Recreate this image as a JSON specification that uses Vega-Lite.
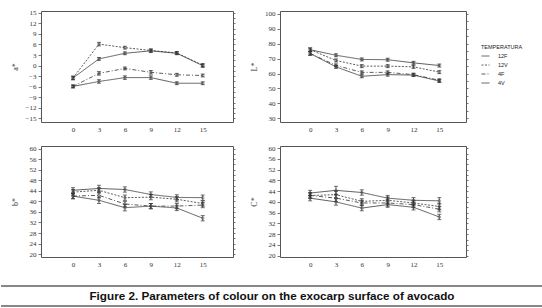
{
  "$schema": "https://vega.github.io/schema/vega-lite/v6.json",
  "background": "white",
  "padding": {"left": 0, "top": 8, "right": 0, "bottom": 0},
  "config": {
    "view": {"stroke": "#555", "strokeWidth": 1},
    "axis": {"grid": false, "domain": false, "labelFont": "Liberation Serif", "labelFontSize": 7, "labelColor": "#333", "titleFont": "Liberation Serif", "titleFontSize": 8, "titleFontWeight": "normal", "titleColor": "#333", "tickColor": "#555", "tickWidth": 0.8}
  },
  "datasets": {
    "colour": [
      {"p": "a", "day": 0, "s": "12F", "v": -3.5, "e": 0.5},
      {"p": "a", "day": 3, "s": "12F", "v": 1.9, "e": 0.4},
      {"p": "a", "day": 6, "s": "12F", "v": 3.5, "e": 0.4},
      {"p": "a", "day": 9, "s": "12F", "v": 4.2, "e": 0.5},
      {"p": "a", "day": 12, "s": "12F", "v": 3.5, "e": 0.4},
      {"p": "a", "day": 15, "s": "12F", "v": 0.0, "e": 0.5},
      {"p": "a", "day": 0, "s": "12V", "v": -3.5, "e": 0.5},
      {"p": "a", "day": 3, "s": "12V", "v": 6.1, "e": 0.5},
      {"p": "a", "day": 6, "s": "12V", "v": 5.1, "e": 0.4},
      {"p": "a", "day": 9, "s": "12V", "v": 4.3, "e": 0.4},
      {"p": "a", "day": 12, "s": "12V", "v": 3.6, "e": 0.4},
      {"p": "a", "day": 15, "s": "12V", "v": 0.1, "e": 0.4},
      {"p": "a", "day": 0, "s": "4F", "v": -5.9, "e": 0.4},
      {"p": "a", "day": 3, "s": "4F", "v": -2.2, "e": 0.5},
      {"p": "a", "day": 6, "s": "4F", "v": -0.8, "e": 0.4},
      {"p": "a", "day": 9, "s": "4F", "v": -1.9, "e": 0.5},
      {"p": "a", "day": 12, "s": "4F", "v": -2.6, "e": 0.4},
      {"p": "a", "day": 15, "s": "4F", "v": -2.8, "e": 0.4},
      {"p": "a", "day": 0, "s": "4V", "v": -5.9, "e": 0.4},
      {"p": "a", "day": 3, "s": "4V", "v": -4.5, "e": 0.5},
      {"p": "a", "day": 6, "s": "4V", "v": -3.4, "e": 0.5},
      {"p": "a", "day": 9, "s": "4V", "v": -3.4, "e": 0.5},
      {"p": "a", "day": 12, "s": "4V", "v": -5.0, "e": 0.4},
      {"p": "a", "day": 15, "s": "4V", "v": -5.0, "e": 0.4},
      {"p": "L", "day": 0, "s": "12F", "v": 76.0, "e": 1.2},
      {"p": "L", "day": 3, "s": "12F", "v": 72.3, "e": 1.0},
      {"p": "L", "day": 6, "s": "12F", "v": 69.5, "e": 1.0},
      {"p": "L", "day": 9, "s": "12F", "v": 69.3, "e": 1.0},
      {"p": "L", "day": 12, "s": "12F", "v": 67.2, "e": 1.0},
      {"p": "L", "day": 15, "s": "12F", "v": 65.4, "e": 1.0},
      {"p": "L", "day": 0, "s": "12V", "v": 76.0, "e": 1.2},
      {"p": "L", "day": 3, "s": "12V", "v": 68.8, "e": 1.0},
      {"p": "L", "day": 6, "s": "12V", "v": 65.0, "e": 1.0},
      {"p": "L", "day": 9, "s": "12V", "v": 65.0, "e": 1.0},
      {"p": "L", "day": 12, "s": "12V", "v": 64.5, "e": 1.0},
      {"p": "L", "day": 15, "s": "12V", "v": 61.0, "e": 1.0},
      {"p": "L", "day": 0, "s": "4F", "v": 73.5, "e": 1.2},
      {"p": "L", "day": 3, "s": "4F", "v": 65.5, "e": 1.0},
      {"p": "L", "day": 6, "s": "4F", "v": 60.8, "e": 1.0},
      {"p": "L", "day": 9, "s": "4F", "v": 60.8, "e": 1.0},
      {"p": "L", "day": 12, "s": "4F", "v": 59.3, "e": 1.0},
      {"p": "L", "day": 15, "s": "4F", "v": 55.5, "e": 1.0},
      {"p": "L", "day": 0, "s": "4V", "v": 73.5, "e": 1.2},
      {"p": "L", "day": 3, "s": "4V", "v": 64.5, "e": 1.0},
      {"p": "L", "day": 6, "s": "4V", "v": 58.2, "e": 1.0},
      {"p": "L", "day": 9, "s": "4V", "v": 59.3, "e": 1.0},
      {"p": "L", "day": 12, "s": "4V", "v": 59.0, "e": 1.0},
      {"p": "L", "day": 15, "s": "4V", "v": 55.0, "e": 1.0},
      {"p": "b", "day": 0, "s": "12F", "v": 44.2, "e": 1.0},
      {"p": "b", "day": 3, "s": "12F", "v": 44.9, "e": 1.2},
      {"p": "b", "day": 6, "s": "12F", "v": 44.5, "e": 1.0},
      {"p": "b", "day": 9, "s": "12F", "v": 42.6, "e": 1.0},
      {"p": "b", "day": 12, "s": "12F", "v": 41.5, "e": 1.0},
      {"p": "b", "day": 15, "s": "12F", "v": 41.4, "e": 1.0},
      {"p": "b", "day": 0, "s": "12V", "v": 43.5, "e": 1.0},
      {"p": "b", "day": 3, "s": "12V", "v": 44.2, "e": 1.0},
      {"p": "b", "day": 6, "s": "12V", "v": 41.4, "e": 1.0},
      {"p": "b", "day": 9, "s": "12V", "v": 41.6, "e": 1.0},
      {"p": "b", "day": 12, "s": "12V", "v": 40.8, "e": 1.0},
      {"p": "b", "day": 15, "s": "12V", "v": 39.2, "e": 1.0},
      {"p": "b", "day": 0, "s": "4F", "v": 42.0, "e": 1.0},
      {"p": "b", "day": 3, "s": "4F", "v": 42.3, "e": 1.0},
      {"p": "b", "day": 6, "s": "4F", "v": 39.0, "e": 1.0},
      {"p": "b", "day": 9, "s": "4F", "v": 38.2, "e": 1.0},
      {"p": "b", "day": 12, "s": "4F", "v": 38.2, "e": 1.0},
      {"p": "b", "day": 15, "s": "4F", "v": 38.6, "e": 1.0},
      {"p": "b", "day": 0, "s": "4V", "v": 42.0, "e": 1.0},
      {"p": "b", "day": 3, "s": "4V", "v": 40.4, "e": 1.2},
      {"p": "b", "day": 6, "s": "4V", "v": 37.6, "e": 1.2},
      {"p": "b", "day": 9, "s": "4V", "v": 38.2, "e": 1.0},
      {"p": "b", "day": 12, "s": "4V", "v": 37.5, "e": 1.0},
      {"p": "b", "day": 15, "s": "4V", "v": 33.6, "e": 1.0},
      {"p": "C", "day": 0, "s": "12F", "v": 43.3, "e": 1.0},
      {"p": "C", "day": 3, "s": "12F", "v": 44.3, "e": 1.5},
      {"p": "C", "day": 6, "s": "12F", "v": 43.5, "e": 1.0},
      {"p": "C", "day": 9, "s": "12F", "v": 41.4, "e": 1.0},
      {"p": "C", "day": 12, "s": "12F", "v": 40.6, "e": 1.0},
      {"p": "C", "day": 15, "s": "12F", "v": 40.4, "e": 1.2},
      {"p": "C", "day": 0, "s": "12V", "v": 42.4, "e": 1.0},
      {"p": "C", "day": 3, "s": "12V", "v": 42.7, "e": 1.2},
      {"p": "C", "day": 6, "s": "12V", "v": 40.2, "e": 1.0},
      {"p": "C", "day": 9, "s": "12V", "v": 40.6, "e": 1.2},
      {"p": "C", "day": 12, "s": "12V", "v": 39.6, "e": 1.0},
      {"p": "C", "day": 15, "s": "12V", "v": 38.3, "e": 1.2},
      {"p": "C", "day": 0, "s": "4F", "v": 42.4, "e": 1.0},
      {"p": "C", "day": 3, "s": "4F", "v": 41.4, "e": 1.2},
      {"p": "C", "day": 6, "s": "4F", "v": 39.6, "e": 1.0},
      {"p": "C", "day": 9, "s": "4F", "v": 39.6, "e": 1.2},
      {"p": "C", "day": 12, "s": "4F", "v": 39.0, "e": 1.0},
      {"p": "C", "day": 15, "s": "4F", "v": 37.3, "e": 1.0},
      {"p": "C", "day": 0, "s": "4V", "v": 41.4, "e": 1.0},
      {"p": "C", "day": 3, "s": "4V", "v": 40.0, "e": 1.2},
      {"p": "C", "day": 6, "s": "4V", "v": 37.7, "e": 1.0},
      {"p": "C", "day": 9, "s": "4V", "v": 39.0, "e": 1.0},
      {"p": "C", "day": 12, "s": "4V", "v": 38.0, "e": 1.0},
      {"p": "C", "day": 15, "s": "4V", "v": 34.4, "e": 1.0}
    ],
    "rules": [{"pos": 0}, {"pos": 1}]
  },
  "columns": 1,
  "align": "none",
  "spacing": 17,
  "concat": [
    {
      "columns": 2,
      "spacing": {"row": 10, "column": 13},
      "resolve": {"scale": {"strokeDash": "shared"}, "legend": {"strokeDash": "shared"}},
      "concat": [
        {
          "width": 192, "height": 111,
          "data": {"name": "colour"},
          "transform": [{"filter": "datum.p === 'a'"}],
          "encoding": {
            "x": {"field": "day", "type": "quantitative", "scale": {"domain": [-3.7, 18.5], "nice": false, "zero": false}, "axis": {"values": [0, 3, 6, 9, 12, 15], "ticks": false, "labelPadding": 3, "title": null}},
            "y": {"field": "v", "type": "quantitative", "scale": {"domain": [-16, 15.5], "nice": false, "zero": false}, "axis": {"values": [-15, -12, -9, -6, -3, 0, 3, 6, 9, 12, 15], "tickSize": 3, "labelPadding": 2, "minExtent": 15, "maxExtent": 15, "titlePadding": 7, "title": ["", "a*"], "titleLineHeight": 10}}
          },
          "layer": [
            {"mark": {"type": "line", "color": "#333", "strokeWidth": 0.8}, "encoding": {"strokeDash": {"field": "s", "type": "nominal", "scale": {"domain": ["12F", "12V", "4F", "4V"], "range": [[1, 0], [2, 1.5], [4, 2, 1, 2], [1, 0]]}, "legend": {"orient": "none", "legendX": 440, "legendY": 34, "title": "TEMPERATURA", "titleFont": "Liberation Sans", "titleFontSize": 5.5, "titleFontWeight": "normal", "titleColor": "#222", "titlePadding": 1, "labelFont": "Liberation Sans", "labelFontSize": 5.5, "labelColor": "#222", "symbolType": "stroke", "symbolSize": 64, "symbolStrokeWidth": 0.8, "symbolStrokeColor": "#333", "labelOffset": 8, "rowPadding": 1}}}},
            {"mark": {"type": "errorbar", "ticks": {"size": 4}, "color": "#333", "rule": {"strokeWidth": 0.8}}, "encoding": {"y": {"field": "v", "type": "quantitative", "axis": null}, "yError": {"field": "e"}}},
            {"mark": {"type": "point", "filled": false, "size": 7, "color": "#333", "strokeWidth": 0.6}, "encoding": {"y": {"field": "v", "type": "quantitative", "axis": {"orient": "right", "labels": false, "title": null, "tickSize": 2, "values": [-15, -13.5, -12, -10.5, -9, -7.5, -6, -4.5, -3, -1.5, 0, 1.5, 3, 4.5, 6, 7.5, 9, 10.5, 12, 13.5, 15]}}}}
          ],
          "resolve": {"axis": {"y": "independent"}}
        },
        {
          "width": 186, "height": 111,
          "data": {"name": "colour"},
          "transform": [{"filter": "datum.p === 'L'"}],
          "encoding": {
            "x": {"field": "day", "type": "quantitative", "scale": {"domain": [-3.5, 18.1], "nice": false, "zero": false}, "axis": {"values": [0, 3, 6, 9, 12, 15], "ticks": false, "labelPadding": 3, "title": null}},
            "y": {"field": "v", "type": "quantitative", "scale": {"domain": [27.5, 102], "nice": false, "zero": false}, "axis": {"values": [30, 40, 50, 60, 70, 80, 90, 100], "tickSize": 3, "labelPadding": 2, "minExtent": 15, "maxExtent": 15, "titlePadding": 7, "title": "L*"}}
          },
          "layer": [
            {"mark": {"type": "line", "color": "#333", "strokeWidth": 0.8}, "encoding": {"strokeDash": {"field": "s", "type": "nominal"}}},
            {"mark": {"type": "errorbar", "ticks": {"size": 4}, "color": "#333", "rule": {"strokeWidth": 0.8}}, "encoding": {"y": {"field": "v", "type": "quantitative", "axis": null}, "yError": {"field": "e"}}},
            {"mark": {"type": "point", "filled": false, "size": 7, "color": "#333", "strokeWidth": 0.6}, "encoding": {"y": {"field": "v", "type": "quantitative", "axis": {"orient": "right", "labels": false, "title": null, "tickSize": 2, "values": [30, 35, 40, 45, 50, 55, 60, 65, 70, 75, 80, 85, 90, 95, 100]}}}}
          ],
          "resolve": {"axis": {"y": "independent"}}
        },
        {
          "width": 192, "height": 111,
          "data": {"name": "colour"},
          "transform": [{"filter": "datum.p === 'b'"}],
          "encoding": {
            "x": {"field": "day", "type": "quantitative", "scale": {"domain": [-3.7, 18.5], "nice": false, "zero": false}, "axis": {"values": [0, 3, 6, 9, 12, 15], "ticks": false, "labelPadding": 3, "title": null}},
            "y": {"field": "v", "type": "quantitative", "scale": {"domain": [18.9, 61], "nice": false, "zero": false}, "axis": {"values": [20, 24, 28, 32, 36, 40, 44, 48, 52, 56, 60], "tickSize": 3, "labelPadding": 2, "minExtent": 15, "maxExtent": 15, "titlePadding": 7, "title": ["", "b*"], "titleLineHeight": 10}}
          },
          "layer": [
            {"mark": {"type": "line", "color": "#333", "strokeWidth": 0.8}, "encoding": {"strokeDash": {"field": "s", "type": "nominal"}}},
            {"mark": {"type": "errorbar", "ticks": {"size": 4}, "color": "#333", "rule": {"strokeWidth": 0.8}}, "encoding": {"y": {"field": "v", "type": "quantitative", "axis": null}, "yError": {"field": "e"}}},
            {"mark": {"type": "point", "filled": false, "size": 7, "color": "#333", "strokeWidth": 0.6}, "encoding": {"y": {"field": "v", "type": "quantitative", "axis": {"orient": "right", "labels": false, "title": null, "tickSize": 2, "values": [20, 22, 24, 26, 28, 30, 32, 34, 36, 38, 40, 42, 44, 46, 48, 50, 52, 54, 56, 58, 60]}}}}
          ],
          "resolve": {"axis": {"y": "independent"}}
        },
        {
          "width": 186, "height": 111,
          "data": {"name": "colour"},
          "transform": [{"filter": "datum.p === 'C'"}],
          "encoding": {
            "x": {"field": "day", "type": "quantitative", "scale": {"domain": [-3.5, 18.1], "nice": false, "zero": false}, "axis": {"values": [0, 3, 6, 9, 12, 15], "ticks": false, "labelPadding": 3, "title": null}},
            "y": {"field": "v", "type": "quantitative", "scale": {"domain": [19.5, 60.8], "nice": false, "zero": false}, "axis": {"values": [20, 24, 28, 32, 36, 40, 44, 48, 52, 56, 60], "tickSize": 3, "labelPadding": 2, "minExtent": 15, "maxExtent": 15, "titlePadding": 7, "title": "C*"}}
          },
          "layer": [
            {"mark": {"type": "line", "color": "#333", "strokeWidth": 0.8}, "encoding": {"strokeDash": {"field": "s", "type": "nominal"}}},
            {"mark": {"type": "errorbar", "ticks": {"size": 4}, "color": "#333", "rule": {"strokeWidth": 0.8}}, "encoding": {"y": {"field": "v", "type": "quantitative", "axis": null}, "yError": {"field": "e"}}},
            {"mark": {"type": "point", "filled": false, "size": 7, "color": "#333", "strokeWidth": 0.6}, "encoding": {"y": {"field": "v", "type": "quantitative", "axis": {"orient": "right", "labels": false, "title": null, "tickSize": 2, "values": [20, 22, 24, 26, 28, 30, 32, 34, 36, 38, 40, 42, 44, 46, 48, 50, 52, 54, 56, 58, 60]}}}}
          ],
          "resolve": {"axis": {"y": "independent"}}
        }
      ]
    },
    {
      "width": 502, "height": 20,
      "view": {"stroke": null},
      "encoding": {"x": {"datum": 0, "type": "quantitative", "scale": {"domain": [0, 1], "range": [-40, 502], "nice": false, "zero": false}, "axis": null}},
      "layer": [
        {"data": {"name": "rules"}, "mark": {"type": "rule", "color": "#111", "strokeWidth": 1}, "encoding": {"x2": {"datum": 1}, "y": {"field": "pos", "type": "quantitative", "scale": {"domain": [0, 1], "nice": false}, "axis": null}}},
        {"data": {"values": [{"caption": "Figure 2. Parameters of colour on the exocarp surface of avocado"}]}, "mark": {"type": "text", "font": "Liberation Sans", "fontSize": 11.7, "fontWeight": "bold", "color": "#111", "baseline": "middle"}, "encoding": {"x": {"datum": 0.5, "type": "quantitative"}, "y": {"datum": 0.5, "type": "quantitative"}, "text": {"field": "caption"}}}
      ]
    }
  ]
}
